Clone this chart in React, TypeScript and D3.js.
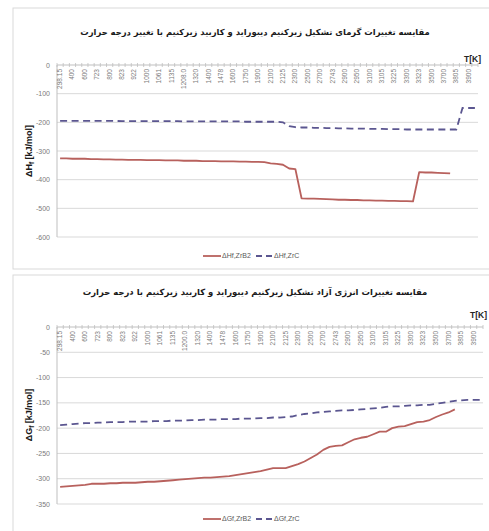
import React, { useLayoutEffect, useRef, useState } from "react";
import * as d3 from "d3";

// Temperature tick labels (every second sample is labelled)
const tempLabelsH = ["298.15", "400", "600", "723", "800", "823", "922", "1000", "1061", "1135", "1208.0", "1320", "1400", "1478", "1600", "1750", "1900", "2100", "2125", "2300", "2500", "2700", "2743", "2900", "2950", "3100", "3105", "3225", "3300", "3323", "3500", "3700", "3805", "3900"];
const tempLabelsG = ["298.15", "400", "600", "723", "800", "823", "922", "1000", "1061", "1135", "1200.0", "1320", "1400", "1478", "1600", "1750", "1900", "2100", "2125", "2300", "2500", "2700", "2743", "2900", "2950", "3100", "3105", "3225", "3300", "3323", "3500", "3700", "3805", "3900"];

// Heat of formation [kJ/mol], two samples per labelled temperature
const hfZrB2: (number | null)[] = [
  -326, -326, -327, -327, -327, -328, -328, -329, -329, -330,
  -330, -331, -331, -331, -332, -332, -332, -333, -333, -333,
  -334, -334, -334, -335, -335, -335, -336, -336, -336, -337,
  -337, -338, -338, -339, -343, -345, -348, -361, -363, -465,
  -466, -466, -467, -468, -469, -470, -470, -471, -471, -472,
  -472, -473, -473, -474, -474, -475, -475, -476, -374, -375,
  -375, -376, -377, -378, null, null, null, null,
];
const hfZrC: (number | null)[] = [
  -195, -195, -195, -195, -195, -195, -195, -195, -195, -195,
  -196, -196, -196, -196, -196, -196, -196, -196, -196, -196,
  -197, -197, -197, -197, -197, -197, -197, -197, -197, -197,
  -198, -198, -198, -198, -198, -198, -200, -213, -217, -218,
  -218, -219, -219, -220, -220, -221, -221, -222, -222, -222,
  -223, -223, -223, -224, -224, -224, -225, -225, -225, -225,
  -225, -225, -225, -225, -225, -150, -150, -150,
];

// Free energy of formation [kJ/mol]
const gfZrB2: (number | null)[] = [
  -316, -315, -314, -313, -312, -310, -310, -310, -309, -309,
  -308, -308, -308, -307, -306, -306, -305, -304, -303, -302,
  -301, -300, -299, -298, -298, -297, -296, -295, -293, -291,
  -289, -287, -285, -282, -279, -279, -279, -275, -271, -266,
  -259, -252, -243, -237, -235, -234, -228, -222, -219, -217,
  -212, -207, -207, -200, -197, -196, -192, -188, -187, -184,
  -178, -173, -169, -163, null, null, null, null,
];
const gfZrC: (number | null)[] = [
  -194, -193, -192, -191, -190, -190, -189, -189, -188, -188,
  -188, -187, -187, -187, -187, -186, -186, -186, -185, -185,
  -185, -184, -184, -183, -183, -183, -182, -182, -182, -181,
  -181, -181, -180, -180, -179, -179, -178, -177, -174, -172,
  -171, -169, -168, -167, -166, -165, -165, -164, -163, -162,
  -161, -160, -158, -157, -157, -156, -155, -155, -154, -154,
  -152, -150, -148, -146, -145, -144, -144, -144,
];

const yTicksH = [0, -100, -200, -300, -400, -500, -600];
const yTicksG = [0, -50, -100, -150, -200, -250, -300, -350];

const titleH = "مقایسه تغییرات گرمای تشکیل زیرکنیم دیبوراید و کاربید زیرکنیم با تغییر درجه حرارت";
const titleG = "مقایسه تغییرات انرژی آزاد تشکیل زیرکنیم دیبوراید و کاربید زیرکنیم با درجه حرارت";

const RED = "#B8615D";
const BLUE = "#5B5690";
const GRID = "#D9D9D9";
const AXIS = "#BFBFBF";
const TICK_TEXT = "#7A7A7A";
const FONT = "'DejaVu Sans', sans-serif";
const LFONT = "'Liberation Sans', Arial, sans-serif";

// Title whose font size is tuned so the line spans a given width
function FitTitle({ text, y, width }: { text: string; y: number; width: number }) {
  const ref = useRef<SVGTextElement>(null);
  const [size, setSize] = useState(9);
  const [pass, setPass] = useState(0);
  useLayoutEffect(() => {
    const el = ref.current;
    if (!el || pass > 5) return;
    const w = el.getComputedTextLength();
    if (w > 0 && Math.abs(w - width) > 2) {
      setSize((s) => s * width / w);
      setPass((k) => k + 1);
    }
  }, [size, pass, width]);
  return (
    <text ref={ref} x={255} y={y} textAnchor="middle" fontFamily={FONT} fontWeight="bold" fontSize={size} fill="#1a1a1a" direction="rtl">
      {text}
    </text>
  );
}

type Props = {
  frameTop: number;
  frameBottom: number;
  titleY: number;
  title: string;
  titleWidth: number;
  unitX: number;
  unitY: number;
  left: number;
  right: number;
  y0: number;
  yMin: number;
  yMinPx: number;
  yTicks: number[];
  labels: string[];
  yLabelMain: string;
  yLabelY: number;
  solid: (number | null)[];
  dashed: (number | null)[];
  solidName: string;
  dashedName: string;
  legendY: number;
  legendX: number;
};

function Chart(p: Props) {
  const n = p.labels.length;
  const band = d3.scaleBand<string>().domain(p.labels).range([p.left, p.right]);
  const half = band.bandwidth() / 2;
  const sampleX = (j: number) => (band(p.labels[Math.floor(j / 2)]) as number) + (j % 2 + 0.5) * half;
  const y = d3.scaleLinear().domain([p.yMin, 0]).range([p.yMinPx, p.y0]);

  const line = d3
    .line<number | null>()
    .defined((d) => d != null)
    .x((_, i) => sampleX(i))
    .y((d) => y(d as number));

  const boundaries = d3.range(0, 2 * n + 1).map((k) => p.left + k * half);

  return (
    <g>
      <rect x={p.left - 44} y={p.frameTop} width={500} height={p.frameBottom - p.frameTop} fill="#fff" stroke={GRID} strokeWidth={1} />
      <FitTitle text={p.title} y={p.titleY} width={p.titleWidth} />
      <text x={p.unitX} y={p.unitY} textAnchor="end" fontFamily={LFONT} fontWeight="bold" fontSize={8.5} fill="#262626">
        T[K]
      </text>
      {/* horizontal gridlines */}
      {p.yTicks.filter((t) => t !== 0).map((t) => (
        <line key={t} x1={p.left} x2={p.right} y1={y(t)} y2={y(t)} stroke={GRID} strokeWidth={1} />
      ))}
      {/* y axis */}
      <line x1={p.left} x2={p.left} y1={p.y0} y2={y(p.yMin)} stroke={AXIS} strokeWidth={1} />
      {p.yTicks.map((t) => (
        <text key={t} x={p.left - 7} y={y(t) + 2.5} textAnchor="end" fontFamily={LFONT} fontSize={7} fill={TICK_TEXT}>
          {t}
        </text>
      ))}
      <text
        transform={`translate(${p.left - 25},${p.yLabelY}) rotate(-90)`}
        textAnchor="middle"
        fontFamily={LFONT}
        fontWeight="bold"
        fontSize={9}
        fill="#1a1a1a"
      >
        {p.yLabelMain}
        <tspan fontSize={6.5} dy={2}>f</tspan>
        <tspan dy={-2}> [kJ/mol]</tspan>
      </text>
      {/* category axis at zero */}
      <line x1={p.left} x2={p.right} y1={p.y0} y2={p.y0} stroke={AXIS} strokeWidth={1} />
      {boundaries.map((bx, k) => (
        <line key={k} x1={bx} x2={bx} y1={p.y0 - 2} y2={p.y0 + 2} stroke={AXIS} strokeWidth={0.8} />
      ))}
      {p.labels.map((lab, k) => (
        <text
          key={k}
          transform={`translate(${sampleX(2 * k) + 2},${p.y0 + 4}) rotate(-90)`}
          textAnchor="end"
          fontFamily={LFONT}
          fontSize={6.5}
          fill={TICK_TEXT}
        >
          {lab}
        </text>
      ))}
      {/* series */}
      <path d={line(p.solid) ?? ""} fill="none" stroke={RED} strokeWidth={1.8} strokeLinejoin="round" />
      <path d={line(p.dashed) ?? ""} fill="none" stroke={BLUE} strokeWidth={1.8} strokeDasharray="7 4.5" />
      {/* legend */}
      <g transform={`translate(${p.legendX},${p.legendY})`} fontFamily={LFONT} fontSize={7} fill="#595959">
        <line x1={0} x2={18} y1={0} y2={0} stroke={RED} strokeWidth={1.8} />
        <text x={19} y={2.4}>{p.solidName}</text>
        <line x1={53} x2={69} y1={0} y2={0} stroke={BLUE} strokeWidth={1.8} strokeDasharray="6 4" />
        <text x={71} y={2.4}>{p.dashedName}</text>
      </g>
    </g>
  );
}

export default function App() {
  return (
    <svg width={489} height={531} style={{ position: "absolute", left: 0, top: 0, background: "#fff" }}>
      <rect width={489} height={531} fill="#fff" />
      <Chart
        frameTop={8}
        frameBottom={269}
        titleY={35}
        title={titleH}
        titleWidth={350}
        unitX={481}
        unitY={62}
        left={57}
        right={478}
        y0={65}
        yMin={-600}
        yMinPx={237}
        yTicks={yTicksH}
        labels={tempLabelsH}
        yLabelMain="ΔH"
        yLabelY={151}
        solid={hfZrB2}
        dashed={hfZrC}
        solidName="ΔHf,ZrB2"
        dashedName="ΔHf,ZrC"
        legendY={256}
        legendX={203}
      />
      <Chart
        frameTop={275}
        frameBottom={560}
        titleY={295}
        title={titleG}
        titleWidth={345}
        unitX={487}
        unitY={318}
        left={57}
        right={483}
        y0={327}
        yMin={-350}
        yMinPx={504}
        yTicks={yTicksG}
        labels={tempLabelsG}
        yLabelMain="ΔG"
        yLabelY={415}
        solid={gfZrB2}
        dashed={gfZrC}
        solidName="ΔGf,ZrB2"
        dashedName="ΔGf,ZrC"
        legendY={519}
        legendX={203}
      />
    </svg>
  );
}
